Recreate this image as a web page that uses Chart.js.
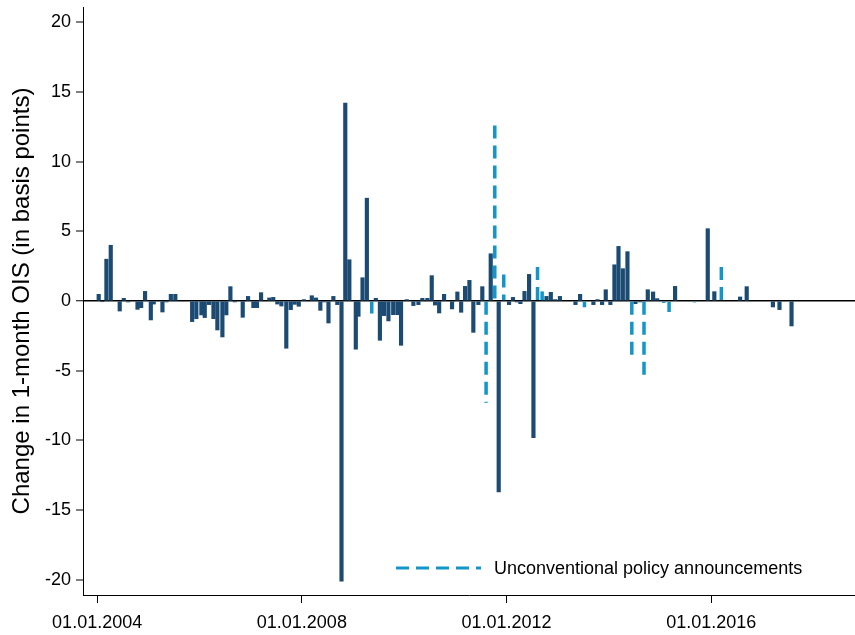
<!DOCTYPE html>
<html>
<head>
<meta charset="utf-8">
<script src="https://cdn.jsdelivr.net/npm/chart.js@4.4.1/dist/chart.umd.min.js"></script>
<style>
  html, body { margin: 0; padding: 0; background: #fff; }
  #wrap { width: 855px; height: 635px; position: relative; }
</style>
</head>
<body>
<div id="wrap"><canvas id="oisChart"></canvas></div>
<script>
// policy meeting dates and 1-month OIS change (bp)
const convDates = [
  '2004-01-12','2004-02-07','2004-03-07','2004-04-07','2004-06-10','2004-07-09','2004-08-09','2004-10-15',
  '2004-11-10','2004-12-08','2005-01-18','2005-02-08','2005-04-11','2005-05-09','2005-06-10','2005-07-12',
  '2005-11-09','2005-12-09','2006-01-14','2006-02-07','2006-03-10','2006-04-10','2006-05-08','2006-06-13',
  '2006-07-11','2006-08-09','2006-09-09','2006-11-05','2006-12-13','2007-01-20','2007-02-15','2007-03-16',
  '2007-05-14','2007-06-11','2007-07-10','2007-08-08','2007-09-12','2007-10-14','2007-11-11','2007-12-10',
  '2008-01-16','2008-03-12','2008-04-11','2008-05-12','2008-06-09','2008-07-09','2008-08-13','2008-09-10',
  '2008-10-10','2008-11-06','2008-12-05','2009-01-20','2009-02-08','2009-03-09','2009-04-09','2009-06-12',
  '2009-07-11','2009-08-10','2009-09-10','2009-10-14','2009-11-13','2009-12-09','2010-01-19','2010-03-07',
  '2010-04-12','2010-05-10','2010-06-15','2010-07-16','2010-08-09','2010-09-07','2010-10-12','2010-12-08',
  '2011-01-15','2011-02-11','2011-03-11','2011-04-11','2011-05-09','2011-06-14','2011-07-12','2011-09-10',
  '2011-11-06','2012-01-19','2012-02-16','2012-03-14','2012-04-09','2012-05-08','2012-06-10','2012-07-11',
  '2012-10-12','2012-11-12','2012-12-13','2013-01-16','2013-05-07','2013-06-09','2013-09-12','2013-10-11',
  '2013-11-13','2013-12-09','2014-01-11','2014-02-09','2014-03-10','2014-04-10','2014-05-13','2014-07-09',
  '2014-08-11','2014-10-05','2014-11-12','2014-12-11','2015-04-18','2015-12-07','2016-01-23','2016-07-25',
  '2016-09-10','2017-03-16','2017-05-02','2017-07-27'
];
const convValues = [
  0.48, -0.05, 3.0, 4.0, -0.72, 0.19, -0.07, -0.6,
  -0.48, 0.69, -1.36, -0.22, -0.79, -0.07, 0.48, 0.48,
  -1.48, -1.27, -1.0, -1.19, -0.26, -1.27, -2.08, -2.58,
  -1.0, 1.03, -0.07, -1.17, 0.33, -0.48, -0.48, 0.6,
  0.22, 0.26, -0.22, -0.36, -3.39, -0.62, -0.24, -0.38,
  0.1, 0.38, 0.22, -0.67, -0.07, -1.58, 0.33, -0.26,
  -20.1, 14.2, 2.96, -3.46, -1.1, 1.67, 7.38, 0.19,
  -2.82, -1.05, -1.43, -0.98, -0.98, -3.18, 0.1, -0.33,
  -0.26, 0.19, 0.19, 1.82, -0.29, -0.86, 0.48, -0.57,
  0.65, -0.81, 1.05, 1.48, -2.25, -0.26, 1.03, 3.39,
  -13.7, -0.26, 0.26, -0.07, -0.19, 0.69, 1.91, -9.8,
  0.33, 0.62, 0.1, 0.33, -0.26, 0.48, -0.26, 0.1,
  -0.26, 0.81, -0.26, 2.6, 3.92, 2.32, 3.54, -0.19,
  -0.07, 0.81, 0.65, 0.17, 1.05, 5.19, 0.67, 0.29,
  1.03, -0.43, -0.62, -1.79
];
const uncDates = [
  '2009-05-14','2011-08-08','2011-10-09','2011-12-12','2012-08-09','2012-09-11','2013-07-10',
  '2014-06-13','2014-09-08','2015-01-27','2015-03-06','2015-09-03','2016-03-13'
];
const uncValues = [-0.9, -7.3, 12.6, 1.91, 2.44, 0.69, -0.45, -3.87, -5.38, -0.14, -0.79, -0.1, 2.44];
const xTickDates = ['2004-01-01', '2008-01-01', '2012-01-01', '2016-01-01'];
const yTicks = [-20, -15, -10, -5, 0, 5, 10, 15, 20];

const NAVY = '#1b4a72';
const BLUE = '#1295c9';
const FONT = '"Liberation Sans", Arial, sans-serif';

const toPoints = (dates, vals) => dates.map((d, i) => ({ x: Date.parse(d), y: vals[i] }));

function fmtDate(ms) {
  const d = new Date(ms);
  const p = n => String(n).padStart(2, '0');
  return p(d.getUTCDate()) + '.' + p(d.getUTCMonth() + 1) + '.' + d.getUTCFullYear();
}

// dashed spikes for the unconventional announcements, drawn on the bar elements' positions
const dashedBars = {
  id: 'dashedBars',
  afterDatasetsDraw(chart) {
    const meta = chart.getDatasetMeta(1);
    const ctx = chart.ctx;
    ctx.save();
    ctx.strokeStyle = BLUE;
    ctx.lineWidth = 3.5;
    ctx.setLineDash([13, 7]);
    meta.data.forEach(bar => {
      const { x, y, base } = bar.getProps(['x', 'y', 'base'], true);
      ctx.beginPath();
      ctx.moveTo(x, Math.min(y, base));
      ctx.lineTo(x, Math.max(y, base));
      ctx.stroke();
    });
    ctx.restore();
  }
};

const innerLegend = {
  id: 'innerLegend',
  afterDraw(chart) {
    const ctx = chart.ctx;
    const a = chart.chartArea;
    const y = a.bottom - 27;
    const x0 = 396;
    ctx.save();
    ctx.strokeStyle = BLUE;
    ctx.lineWidth = 3;
    ctx.setLineDash([13, 7]);
    ctx.beginPath();
    ctx.moveTo(x0, y);
    ctx.lineTo(x0 + 85, y);
    ctx.stroke();
    ctx.setLineDash([]);
    ctx.fillStyle = '#000';
    ctx.font = '18px ' + FONT;
    ctx.textBaseline = 'middle';
    ctx.fillText(chart.data.datasets[1].label, x0 + 98, y + 1);
    ctx.restore();
  }
};

new Chart(document.getElementById('oisChart'), {
  type: 'bar',
  data: {
    datasets: [
      {
        label: 'Conventional',
        data: toPoints(convDates, convValues),
        backgroundColor: NAVY,
        barThickness: 3.5
      },
      {
        label: 'Unconventional policy announcements',
        data: toPoints(uncDates, uncValues),
        backgroundColor: 'rgba(0,0,0,0)',
        barThickness: 3.5
      }
    ]
  },
  options: {
    responsive: true,
    maintainAspectRatio: false,
    animation: false,
    grouped: false,
    layout: { padding: { top: 7, right: 0, left: 0, bottom: 0 } },
    plugins: {
      legend: { display: false },
      tooltip: { enabled: false }
    },
    scales: {
      x: {
        type: 'linear',
        offset: false,
        min: Date.parse('2003-09-22'),
        max: Date.parse('2018-10-23'),
        afterBuildTicks: s => { s.ticks = xTickDates.map(d => ({ value: Date.parse(d) })); },
        afterFit: s => { s.height = 40; s.paddingLeft = 0; s.paddingRight = 0; },
        ticks: {
          callback: v => fmtDate(v),
          color: '#000',
          font: { family: FONT, size: 18 },
          padding: 9,
          maxRotation: 0,
          autoSkip: false
        },
        grid: { offset: false, drawOnChartArea: false, tickLength: 8, tickColor: '#000', tickWidth: 1 },
        border: { color: '#000', width: 1 }
      },
      y: {
        min: -21.1,
        max: 21.1,
        afterBuildTicks: s => { s.ticks = yTicks.map(v => ({ value: v })); },
        afterFit: s => { s.width = 83; s.paddingTop = 0; s.paddingBottom = 0; },
        ticks: {
          color: '#000',
          font: { family: FONT, size: 18 },
          padding: 5
        },
        grid: {
          drawOnChartArea: true,
          color: c => (c.tick && c.tick.value === 0 ? '#000' : 'rgba(0,0,0,0)'),
          lineWidth: c => (c.tick && c.tick.value === 0 ? 1.5 : 0),
          tickColor: '#000',
          tickLength: 7,
          tickWidth: 1
        },
        border: { color: '#000', width: 1 },
        title: {
          display: true,
          text: 'Change in 1-month OIS (in basis points)',
          color: '#000',
          font: { family: FONT, size: 24 },
          padding: { top: 8, bottom: 0 }
        }
      }
    }
  },
  plugins: [dashedBars, innerLegend]
});
</script>
</body>
</html>
